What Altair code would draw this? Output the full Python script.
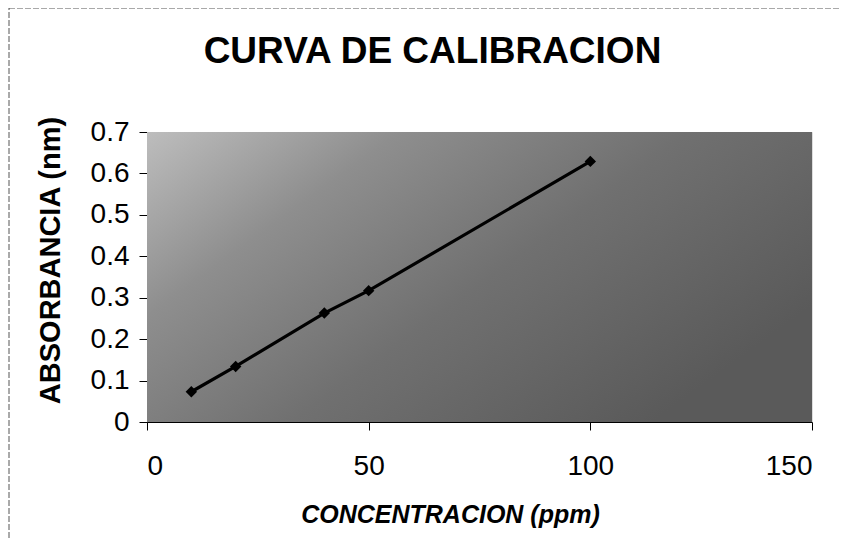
import altair as alt
import pandas as pd

concentracion = [10, 20, 40, 50, 100]
absorbancia = [0.073, 0.134, 0.263, 0.317, 0.629]

x_ticks = [0, 50, 100, 150]
y_ticks = [0, 0.1, 0.2, 0.3, 0.4, 0.5, 0.6, 0.7]

chart_title = "CURVA DE CALIBRACION"

df = pd.DataFrame({"c": concentracion, "a": absorbancia})
bg = pd.DataFrame({"x0": [0], "x1": [150], "y0": [0], "y1": [0.7]})

W, H = 665, 290
FONT = "Liberation Sans"

xscale = alt.Scale(domain=[0, 150], nice=False, zero=True)
yscale = alt.Scale(domain=[0, 0.7], nice=False, zero=True)

xaxis = alt.Axis(
    values=x_ticks, grid=False, tickSize=8, tickColor="black", domainColor="black",
    labelFontSize=28, labelFont=FONT, labelColor="black", labelPadding=22,
    title="CONCENTRACION (ppm)", titleFont=FONT, titleFontSize=25, titleFontStyle="italic",
    titleFontWeight="bold", titleColor="black", titleX=303, titleY=100,
    titleBaseline="alphabetic", titleAnchor="middle",
)
yaxis = alt.Axis(
    values=y_ticks, grid=False, tickSize=8, tickColor="black", domainColor="black",
    labelFontSize=28, labelFont=FONT, labelColor="black", labelPadding=10,
    format=".1~f",
    title="ABSORBANCIA (nm)", titleFont=FONT, titleFontSize=29, titleFontWeight="bold",
    titleColor="black", titleX=-88, titleY=128, titleBaseline="alphabetic", titleAngle=-90,
    titleAnchor="middle",
)

grad = alt.LinearGradient(
    gradient="linear",
    stops=[
        alt.GradientStop(color="#bdbdbd", offset=0),
        alt.GradientStop(color="#8e8e8e", offset=0.28),
        alt.GradientStop(color="#707070", offset=0.6),
        alt.GradientStop(color="#5a5a5a", offset=1),
    ],
    x1=0, x2=1, y1=0, y2=0.6,
)

background = alt.Chart(bg).mark_rect(color=grad).encode(
    x=alt.X("x0:Q", scale=xscale, axis=xaxis),
    x2="x1:Q",
    y=alt.Y("y0:Q", scale=yscale, axis=yaxis),
    y2="y1:Q",
)

frame = alt.Chart(bg).mark_rect(
    fill=None, stroke="#555555", strokeWidth=1, strokeDash=[6, 2], clip=False
).encode(
    x=alt.value(-138), x2=alt.value(W + 40), y=alt.value(-124), y2=alt.value(H + 140)
)

title_text = alt.Chart(bg).mark_text(
    font=FONT, fontSize=37, fontWeight="bold", color="black",
    align="center", baseline="alphabetic", clip=False,
).encode(
    x=alt.value(W / 2 - 47), y=alt.value(-69), text=alt.value(chart_title)
)

line = alt.Chart(df).mark_line(color="black", strokeWidth=3.2).encode(
    x=alt.X("c:Q", scale=xscale),
    y=alt.Y("a:Q", scale=yscale),
)
points = alt.Chart(df).mark_point(
    shape="diamond", filled=True, color="black", size=130, opacity=1
).encode(
    x=alt.X("c:Q", scale=xscale),
    y=alt.Y("a:Q", scale=yscale),
)

chart = alt.layer(frame, background, line, points, title_text).properties(
    width=W,
    height=H,
    autosize=alt.AutoSizeParams(type="none"),
    padding={"left": 139, "top": 124, "right": 29, "bottom": 116},
).configure_view(stroke="black", strokeWidth=1.5).configure(background="white")

chart.save("out.html", embed_options={"renderer": "svg", "actions": False})
